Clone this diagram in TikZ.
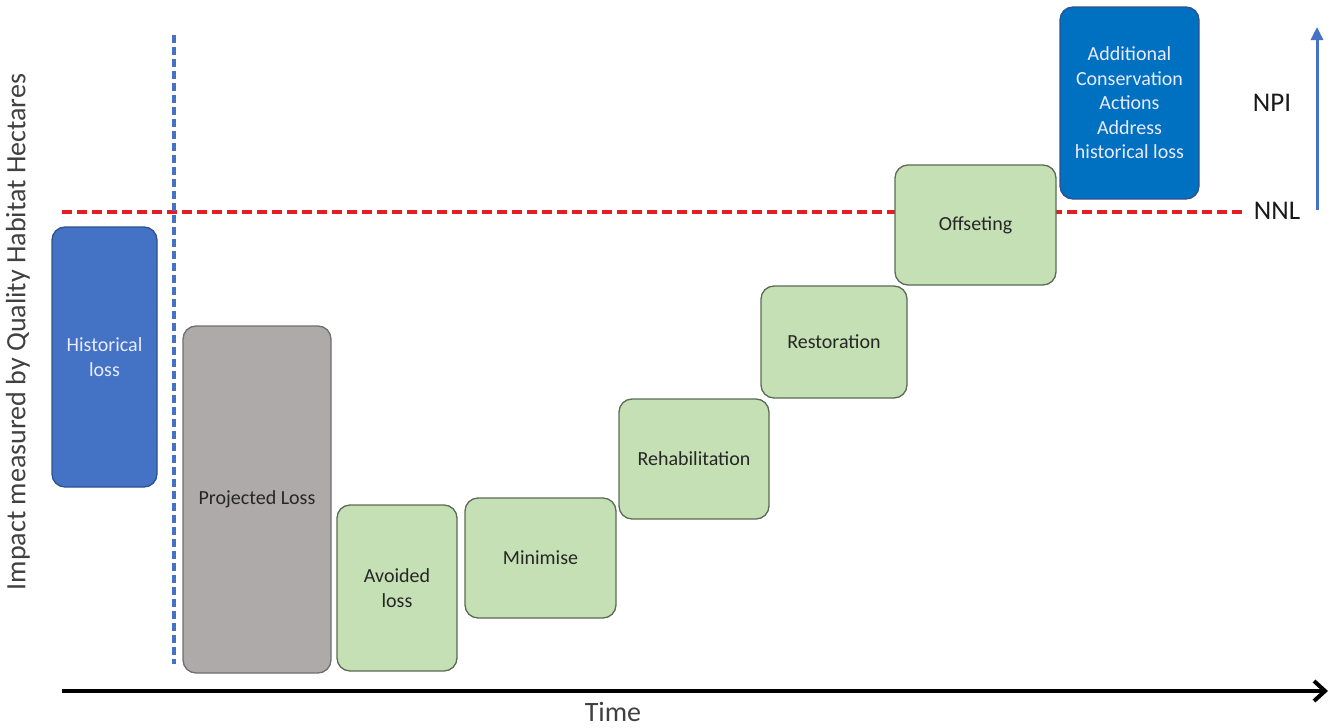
\documentclass[tikz,border=0pt]{standalone}
\usepackage{fontspec}
\setmainfont{Carlito}
\usetikzlibrary{arrows.meta}
\definecolor{histblue}{HTML}{4472C4}
\definecolor{histedge}{HTML}{2F528F}
\definecolor{npiblue}{HTML}{0070C0}
\definecolor{projgray}{HTML}{AEAAAA}
\definecolor{projedge}{HTML}{6F6F6F}
\definecolor{mitgreen}{HTML}{C5E0B4}
\definecolor{mitedge}{HTML}{5B6B55}
\definecolor{nnlred}{HTML}{E41E25}
\definecolor{labelgray}{HTML}{404040}

\begin{document}
\begin{tikzpicture}[x=1pt,y=-1pt,
	stage/.style={rectangle,rounded corners=13pt,draw,line width=1.3pt,align=center,
		font=\fontsize{20}{24.5}\selectfont,inner sep=0pt},
	mit_node/.style={stage,fill=mitgreen,draw=mitedge,text=black!85},
	loss_node/.style={stage,fill=projgray,draw=projedge,text=black!85},
	hist_node/.style={stage,fill=histblue,draw=histedge,text=blue!8},
	npi_node/.style={stage,fill=npiblue,draw=histedge,text=blue!8},
	axis_label/.style={font=\fontsize{28}{32}\selectfont,text=labelgray},
	level_label/.style={font=\fontsize{27}{32}\selectfont,text=black!90}]

		\useasboundingbox (0,0) rectangle (1334,728);

		% reference lines
		\coordinate (nnl_start) at (62,212);
		\coordinate (nnl_end) at (1243,212);
		\coordinate (now_top) at (174,35);
		\coordinate (now_bottom) at (174,664);
		\draw[nnlred,line width=4pt,dash pattern=on 10pt off 5pt] (nnl_start) -- (nnl_end);
		\draw[histblue,line width=3.5pt,dash pattern=on 8pt off 4pt] (now_top) -- (now_bottom);

		% stages of the mitigation hierarchy
		\node[hist_node,minimum width=105pt,minimum height=260pt] (hist) at (104.5,357) {Historical\\loss};
		\node[loss_node,minimum width=148pt,minimum height=347pt] (proj) at (257,499.5) {Projected Loss};
		\node[mit_node,minimum width=120pt,minimum height=166pt] (avoid) at (397,588) {Avoided\\loss};
		\node[mit_node,minimum width=151pt,minimum height=120pt] (mini) at (540.5,558) {Minimise};
		\node[mit_node,minimum width=150pt,minimum height=120pt] (rehab) at (694,459) {Rehabilitation};
		\node[mit_node,minimum width=146pt,minimum height=112pt] (resto) at (834,342) {Restoration};
		\node[mit_node,minimum width=161pt,minimum height=120pt] (offset) at (975.5,225) {Offseting};
		\node[npi_node,minimum width=139pt,minimum height=192pt] (extra) at (1129.5,103) {Additional\\Conservation\\Actions\\Address\\historical loss};

		% NNL / NPI
		\node[level_label] (nnl) at (1277,211) {NNL};
		\node[level_label] (npi) at (1272,103) {NPI};
		\coordinate (npi_base) at (1317,210);
		\coordinate (npi_tip) at (1317,27);
		\draw[histblue,line width=3pt,-{Triangle[length=13pt,width=12pt]}] (npi_base) -- (npi_tip);

		% axes
		\coordinate (t_start) at (62,691);
		\coordinate (t_end) at (1328,691);
		\draw[black,line width=4pt,-{Straight Barb[length=11pt,width=20pt,line width=4pt]}] (t_start) -- (t_end);
		\node[axis_label] (time) at (613,712) {Time};
		\node[axis_label,rotate=90] (impact) at (18,332) {Impact measured by Quality Habitat Hectares};
\end{tikzpicture}
\end{document}
